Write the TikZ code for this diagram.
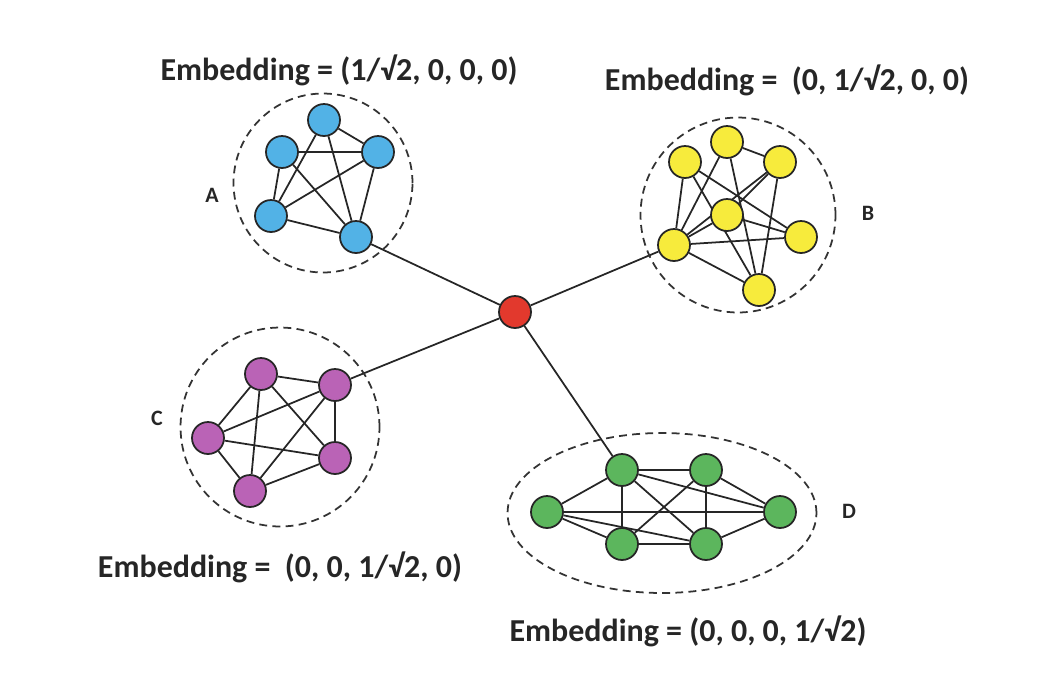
\documentclass[tikz,border=0pt]{standalone}
\usepackage{fontspec}
\setmainfont{Carlito}
\usepackage{tikz}
\usetikzlibrary{
	shapes.geometric,
	backgrounds
}
\definecolor{vblue}{HTML}{52B2E6}
\definecolor{vyellow}{HTML}{F7EB3C}
\definecolor{vpurple}{HTML}{BA63B6}
\definecolor{vgreen}{HTML}{5CB65D}
\definecolor{vred}{HTML}{E2392D}
\tikzset{
	vertex/.style={
		circle,
		draw=black!85,
		line width=1pt,
		minimum size=0.64cm,
		inner sep=0pt
	},
	link/.style={
		draw=black!85,
		line width=1pt
	},
	cluster/.style={
		draw=black!80,
		line width=1pt,
		dash pattern=on 4.5pt off 3pt,
		inner sep=0pt
	},
	embtext/.style={
		font=\bfseries\fontsize{18.2}{21}\selectfont,
		text=black!85
	},
	grouplabel/.style={
		font=\bfseries\fontsize{12.5}{15}\selectfont,
		text=black!85
	}
}

\begin{document}
\begin{tikzpicture}[x=0.02cm,y=-0.02cm]
	\useasboundingbox (0,0) rectangle (1042,684);

	% dashed groups
	\node[cluster,circle,minimum size=3.58cm] (gA) at (323,183) {};
	\node[cluster,circle,minimum size=3.90cm] (gB) at (738,215) {};
	\node[cluster,circle,minimum size=3.98cm] (gC) at (280,427) {};
	\node[cluster,ellipse,minimum width=6.18cm,minimum height=3.20cm] (gD) at (662,513) {};

	% hub
	\node[vertex,fill=vred] (hub) at (515,312) {};

	% group A
	\node[vertex,fill=vblue] (a1) at (324,120) {};
	\node[vertex,fill=vblue] (a2) at (282,152) {};
	\node[vertex,fill=vblue] (a3) at (378,152) {};
	\node[vertex,fill=vblue] (a4) at (271,216) {};
	\node[vertex,fill=vblue] (a5) at (356,237) {};

	% group B
	\node[vertex,fill=vyellow] (b1) at (727,142) {};
	\node[vertex,fill=vyellow] (b2) at (685,162) {};
	\node[vertex,fill=vyellow] (b3) at (780,162) {};
	\node[vertex,fill=vyellow] (b4) at (727,215) {};
	\node[vertex,fill=vyellow] (b5) at (801,237) {};
	\node[vertex,fill=vyellow] (b6) at (674,245) {};
	\node[vertex,fill=vyellow] (b7) at (759,290) {};

	% group C
	\node[vertex,fill=vpurple] (c1) at (261,374) {};
	\node[vertex,fill=vpurple] (c2) at (335,385) {};
	\node[vertex,fill=vpurple] (c3) at (208,438) {};
	\node[vertex,fill=vpurple] (c4) at (335,458) {};
	\node[vertex,fill=vpurple] (c5) at (250,491) {};

	% group D
	\node[vertex,fill=vgreen] (d1) at (622,470) {};
	\node[vertex,fill=vgreen] (d2) at (706,470) {};
	\node[vertex,fill=vgreen] (d3) at (547,512) {};
	\node[vertex,fill=vgreen] (d4) at (780,512) {};
	\node[vertex,fill=vgreen] (d5) at (622,544) {};
	\node[vertex,fill=vgreen] (d6) at (706,544) {};

	% edges behind the vertices
	\begin{pgfonlayer}{background}
		\foreach \u/\v in {a1/a3,a1/a4,a1/a5,a2/a3,a2/a4,a2/a5,a3/a4,a3/a5,a4/a5,
			b1/b3,b1/b6,b1/b7,b2/b6,b2/b5,b2/b7,b3/b6,b3/b4,b3/b7,b4/b6,b4/b5,b6/b5,b6/b7,
			c1/c2,c1/c3,c1/c4,c1/c5,c2/c3,c2/c4,c2/c5,c3/c4,c3/c5,c4/c5,
			d3/d1,d3/d5,d3/d4,d3/d6,d1/d2,d1/d5,d1/d4,d1/d6,d2/d5,d2/d6,d2/d4,d5/d6,d6/d4,
			hub/a5,hub/b6,hub/c2,hub/d1}
			\draw[link] (\u) -- (\v);
	\end{pgfonlayer}

	% labels
	\node[grouplabel] (labA) at (212,195) {A};
	\node[grouplabel] (labB) at (868,213) {B};
	\node[grouplabel] (labC) at (157,418) {C};
	\node[grouplabel] (labD) at (849,511) {D};

	\node[embtext] (embA) at (339,70) {Embedding = (1/√2, 0, 0, 0)};
	\node[embtext] (embB) at (787,80) {Embedding = \ (0, 1/√2, 0, 0)};
	\node[embtext] (embC) at (280,567) {Embedding = \ (0, 0, 1/√2, 0)};
	\node[embtext] (embD) at (688,631) {Embedding = (0, 0, 0, 1/√2)};
\end{tikzpicture}
\end{document}
